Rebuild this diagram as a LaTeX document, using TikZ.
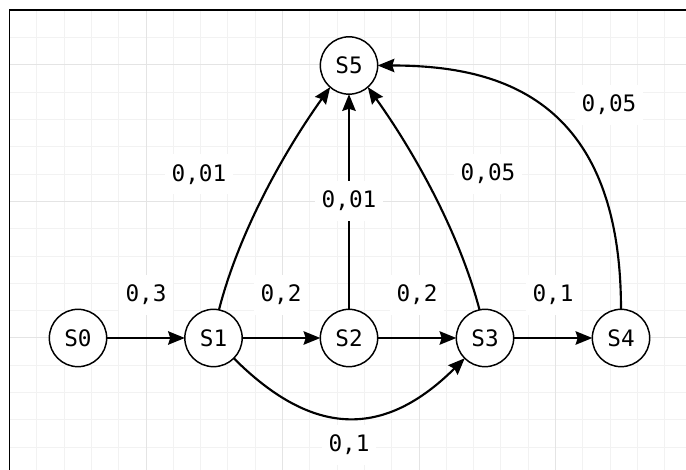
\documentclass[tikz,border=0pt]{standalone}
\usepackage{fontspec}
\setmonofont{DejaVu Sans Mono}
\usetikzlibrary{arrows.meta}
\definecolor{gridminor}{HTML}{F2F2F2}
\definecolor{gridmajor}{HTML}{E4E4E4}
\begin{document}
\begin{tikzpicture}[x=0.75pt,y=-0.75pt,
  txt/.style={font=\ttfamily\fontsize{17}{17}\selectfont},
  state/.style={circle,draw,line width=1.1pt,fill=white,minimum size=43pt,inner sep=0pt,outer sep=0pt,txt},
  edge/.style={line width=1.6pt,-{Stealth[length=12.5pt,width=10pt,inset=1.5pt]}},
  lbl/.style={fill=white,inner xsep=5pt,inner ysep=0pt,minimum height=30pt,txt}]
\useasboundingbox (0,0) rectangle (686,470);
% grid
\foreach \k in {1,...,24}
  \draw[gridminor,line width=0.75pt] ({9.5+27.3*\k},10.4) -- ({9.5+27.3*\k},470);
\foreach \k in {1,...,16}
  \draw[gridminor,line width=0.75pt] (9.5,{10.4+27.3*\k}) -- (686,{10.4+27.3*\k});
\foreach \k in {5,10,15,20}
  \draw[gridmajor,line width=0.75pt] ({9.5+27.3*\k},10.4) -- ({9.5+27.3*\k},470);
\foreach \k in {2,7,12}
  \draw[gridmajor,line width=0.75pt] (9.5,{10.4+27.3*\k}) -- (686,{10.4+27.3*\k});
% frame
\draw[line width=1pt] (9.5,470) -- (9.5,10) -- (686,10);
% states
\node[state] (S0) at (78,338) {S0};
\node[state] (S1) at (213.5,338) {S1};
\node[state] (S2) at (349,338) {S2};
\node[state] (S3) at (485,338) {S3};
\node[state] (S4) at (621,338) {S4};
\node[state] (S5) at (349,65.5) {S5};
% edges
\draw[edge] (S0) -- (S1);
\draw[edge] (S1) -- (S2);
\draw[edge] (S2) -- (S3);
\draw[edge] (S3) -- (S4);
\draw[edge] (S2) -- (S5);
\draw[edge] (S1.79) .. controls (238.8,232.5) and (283.8,152) .. (S5.229);
\draw[edge] (S3.101) .. controls (459.2,232.5) and (414.2,152) .. (S5.311);
\draw[edge] (S4.north) .. controls (621,95) and (495,65.5) .. (S5.east);
\draw[edge] (S1.-45) .. controls (313.5,438) and (384.5,438) .. (S3.225);
% labels
\node[lbl] (L01) at (146,295) {0,3};
\node[lbl] (L12) at (281,295) {0,2};
\node[lbl] (L23) at (417,295) {0,2};
\node[lbl] (L34) at (553,295) {0,1};
\node[lbl] (L13) at (349,445) {0,1};
\node[lbl] (L15) at (199,174.5) {0,01};
\node[lbl] (L25) at (349,201) {0,01};
\node[lbl] (L35) at (488,174) {0,05};
\node[lbl] (L45) at (609,105) {0,05};
\end{tikzpicture}
\end{document}
